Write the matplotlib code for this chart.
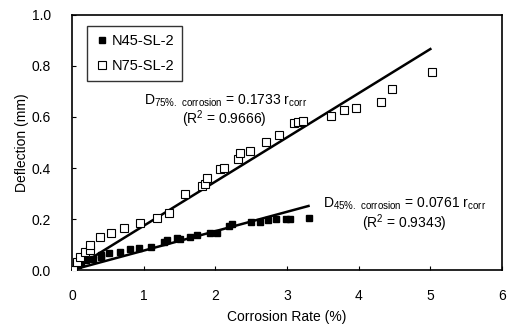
import matplotlib
matplotlib.use("Agg")
import matplotlib.pyplot as plt
import numpy as np

plt.rcParams['font.family'] = ['Liberation Sans', 'DejaVu Sans']
plt.rcParams['mathtext.fontset'] = 'custom'
plt.rcParams['mathtext.rm'] = 'Liberation Sans'

# N45-SL-2 (filled squares)
n45_x = [0.02, 0.09, 0.13, 0.20, 0.30, 0.41, 0.41, 0.52, 0.67, 0.81, 0.93, 1.10,
         1.28, 1.32, 1.46, 1.50, 1.64, 1.74, 1.92, 2.02, 2.19, 2.23, 2.50, 2.63,
         2.73, 2.84, 2.98, 3.04, 3.30]
n45_y = [0.00, 0.02, 0.03, 0.04, 0.045, 0.05, 0.06, 0.065, 0.072, 0.081, 0.087, 0.092,
         0.111, 0.118, 0.124, 0.120, 0.131, 0.137, 0.144, 0.146, 0.173, 0.179, 0.188, 0.190,
         0.195, 0.199, 0.201, 0.201, 0.205]

# N75-SL-2 (open squares)
n75_x = [0.02, 0.07, 0.11, 0.18, 0.25, 0.25, 0.39, 0.54, 0.72, 0.95, 1.19, 1.35,
         1.57, 1.81, 1.85, 1.88, 2.06, 2.12, 2.31, 2.35, 2.48, 2.70, 2.885, 3.10,
         3.15, 3.22, 3.62, 3.79, 3.96, 4.31, 4.47, 5.02]
n75_y = [0.00, 0.03, 0.05, 0.07, 0.08, 0.10, 0.13, 0.146, 0.163, 0.186, 0.205, 0.225,
         0.30, 0.33, 0.337, 0.36, 0.396, 0.40, 0.435, 0.46, 0.468, 0.503, 0.529, 0.578,
         0.58, 0.583, 0.604, 0.627, 0.637, 0.659, 0.709, 0.775]

slope45, r2_45, xmax45 = 0.0761, 0.9343, 3.3
slope75, r2_75, xmax75 = 0.1733, 0.9666, 5.0

fig = plt.figure(figsize=(5.15, 3.28), dpi=100)
ax = fig.add_axes([0.1398, 0.1768, 0.8350, 0.7775])

ax.plot(n45_x, n45_y, linestyle='none', marker='s', markersize=5,
        markerfacecolor='black', markeredgecolor='black', label='N45-SL-2', zorder=3)
ax.plot(n75_x, n75_y, linestyle='none', marker='s', markersize=5.5,
        markerfacecolor='white', markeredgecolor='black', markeredgewidth=0.8,
        label='N75-SL-2', zorder=3)

xl = np.array([0, xmax75])
ax.plot(xl, slope75 * xl, color='black', lw=1.8, zorder=2)
xl = np.array([0, xmax45])
ax.plot(xl, slope45 * xl, color='black', lw=1.8, zorder=2)

ax.set_xlim(0, 6)
ax.set_ylim(0, 1.0)
ax.set_xticks(range(0, 7))
ax.set_yticks(np.arange(0, 1.01, 0.2))
ax.set_yticklabels([f"{v:.1f}" for v in np.arange(0, 1.01, 0.2)])
ax.tick_params(direction='in', length=3, labelsize=10)
ax.tick_params(axis='x', pad=14)
ax.tick_params(axis='y', pad=15)
for s in ax.spines.values():
    s.set_linewidth(1.2)

ax.set_xlabel('Corrosion Rate (%)', fontsize=10, labelpad=5)
ax.set_ylabel('Deflection (mm)', fontsize=10, labelpad=2)

leg = ax.legend(loc='upper left', fontsize=10.5, frameon=True, fancybox=False,
                edgecolor='black', handletextpad=0.15, handlelength=1.0,
                borderpad=0.55, labelspacing=0.75, bbox_to_anchor=(0.018, 0.985))
leg.get_frame().set_linewidth(1.0)

ax.text(1.0, 0.665, r'D$_{\mathregular{75\%.\ corrosion}}$ = ' + f'{slope75:.4f}' + r' r$_{\mathregular{corr}}$',
        fontsize=10, ha='left', va='center')
ax.text(2.13, 0.59, f'(R$^{{\\mathregular{{2}}}}$ = {r2_75:.4f})', fontsize=10, ha='center', va='center')
ax.text(3.5, 0.26, r'D$_{\mathregular{45\%.\ corrosion}}$ = ' + f'{slope45:.4f}' + r' r$_{\mathregular{corr}}$',
        fontsize=10, ha='left', va='center')
ax.text(4.63, 0.182, f'(R$^{{\\mathregular{{2}}}}$ = {r2_45:.4f})', fontsize=10, ha='center', va='center')

fig.savefig('out.png', dpi=100)
